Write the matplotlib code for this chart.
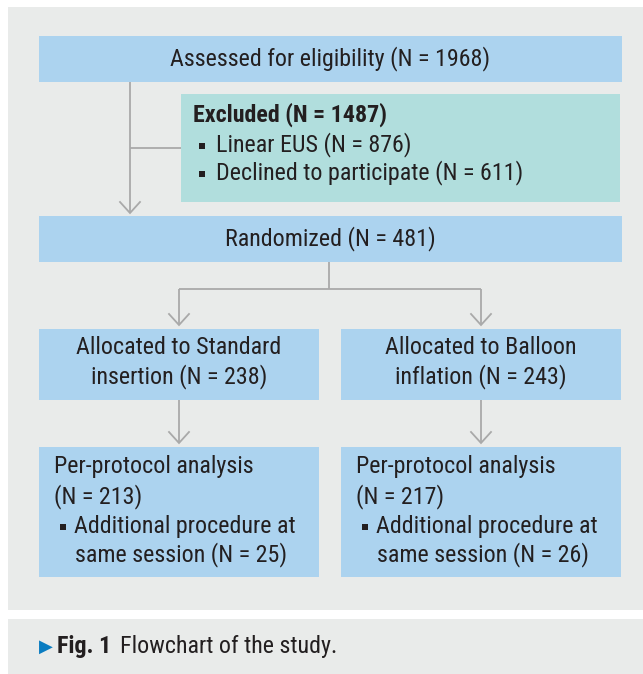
import matplotlib.pyplot as plt
from matplotlib.patches import Rectangle

# Study counts
assessed_n = 1968
excluded_n = 1487
excluded_reasons = ["Linear EUS", "Declined to participate"]
excluded_counts = [876, 611]
randomized_n = 481
groups = ["Standard insertion", "Balloon inflation"]
allocated_counts = [238, 243]
per_protocol_counts = [213, 217]
additional_counts = [25, 26]

plt.rcParams['font.family'] = ['Roboto Condensed', 'Lato', 'DejaVu Sans']

BLUE = '#acd3ef'
TEAL = '#b1dedd'
PANEL = '#e9ebea'
LINE = '#a9a9a9'
TXT = '#231f20'
FS = 17.3

fig = plt.figure(figsize=(6.43, 6.74), dpi=100)
ax = fig.add_axes([0, 0, 1, 1])
ax.set_xlim(0, 643)
ax.set_ylim(674, 0)
ax.axis('off')


def box(x, y, w, h, color=BLUE):
    ax.add_patch(Rectangle((x, y), w, h, facecolor=color, edgecolor='none'))


def line(xs, ys):
    ax.plot(xs, ys, color=LINE, lw=1.3, solid_capstyle='butt')


def arrow_down(x, y0, y1):
    # straight line with an open V head
    line([x, x], [y0, y1])
    ax.plot([x - 10, x, x + 10], [y1 - 11, y1, y1 - 11], color=LINE, lw=1.3,
            solid_joinstyle='miter')


def txt(x, y, s, ha='left', **kw):
    return ax.text(x, y, s, ha=ha, va='center', fontsize=FS, color=TXT, **kw)


def bullet(x, y):
    ax.add_patch(Rectangle((x - 3, y - 3), 6, 6, facecolor=TXT, edgecolor='none'))


# background panels
box(8, 7, 635, 603, PANEL)
box(8, 619, 635, 55, PANEL)

# assessed / excluded
box(39, 36, 583, 46)
txt(330, 59, f"Assessed for eligibility (N = {assessed_n})", ha='center')
box(181, 94, 439, 108, TEAL)
txt(193, 115, f"Excluded (N = {excluded_n})", weight='bold')
for i, (reason, n) in enumerate(zip(excluded_reasons, excluded_counts)):
    yy = 145 + i * 28
    bullet(202, yy + 1)
    txt(216, yy, f"{reason} (N = {n})")
arrow_down(130, 82, 213)
line([130, 181], [148, 148])

# randomized
box(39, 216, 583, 46)
txt(330, 239, f"Randomized (N = {randomized_n})", ha='center')
line([329, 329], [262, 289])
line([179, 481], [289, 289])

# two arms
lefts = [39, 341]
centers = [179, 481]
for i, g in enumerate(groups):
    x0, xc = lefts[i], centers[i]
    first, second = g.split(" ")
    arrow_down(xc, 289, 325)
    box(x0, 329, 280, 71)
    txt(xc, 348, f"Allocated to {first}", ha='center')
    txt(xc, 377, f"{second} (N = {allocated_counts[i]})", ha='center')

    arrow_down(xc, 400, 443)
    box(x0, 447, 280, 130)
    txt(x0 + 15, 467, "Per-protocol analysis")
    txt(x0 + 15, 497, f"(N = {per_protocol_counts[i]})")
    bullet(x0 + 24, 527)
    txt(x0 + 35, 526, "Additional procedure at")
    txt(x0 + 36, 555, f"same session (N = {additional_counts[i]})")

# caption
ax.text(39, 647, "\u25b6", ha='left', va='center', fontsize=13, color='#0a7cc1',
        family='DejaVu Sans')
fig_lbl = txt(57, 647, "Fig. 1", weight='bold')
ax.annotate("Flowchart of the study.", xy=(1, 0.5), xycoords=fig_lbl,
            xytext=(6, 0), textcoords='offset points', ha='left', va='center',
            fontsize=FS, color=TXT)

fig.savefig('out.png', dpi=100, facecolor='white')
